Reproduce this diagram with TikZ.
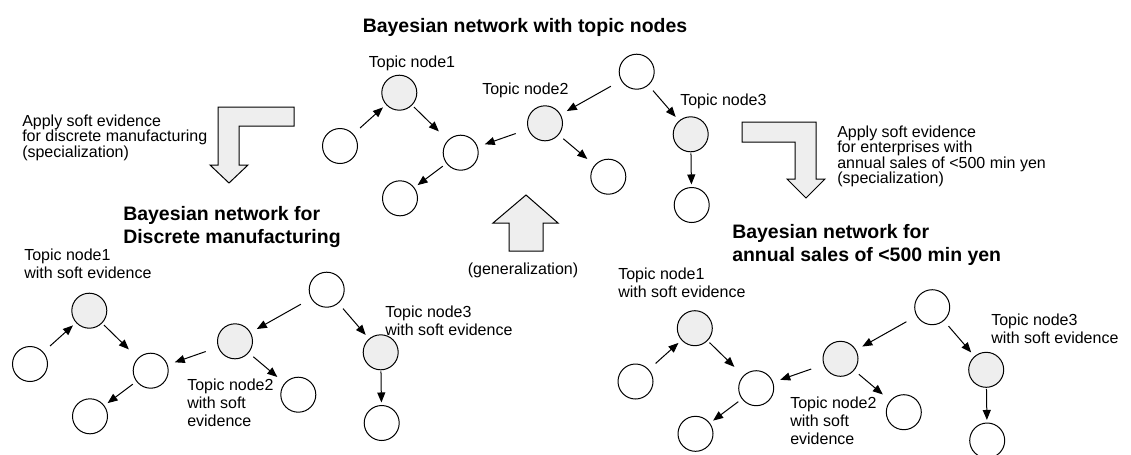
\documentclass[tikz,border=0pt]{standalone}
\usepackage{fontspec}
\setmainfont{Liberation Sans}
\usetikzlibrary{arrows.meta}
\definecolor{shade}{RGB}{238,238,238}
\tikzset{
 bn/.style={circle,draw,line width=0.75pt,minimum size=26.25pt,inner sep=0pt},
 tn/.style={bn,fill=shade},
 ed/.style 2 args={draw,line width=0.75pt,-{Triangle[length=7.5pt,width=6pt]},shorten <=#1,shorten >=#2},
 lbl/.style={inner sep=0pt,align=left,anchor=base west,font=\fontsize{12}{13.5}\selectfont},
 note/.style={inner sep=0pt,align=left,anchor=base west,font=\fontsize{12}{11.6}\selectfont},
 ttl/.style={inner sep=0pt,align=left,anchor=base west,font=\fontsize{14.6}{17.25}\selectfont\bfseries},
 blk/.style={draw,line width=0.75pt,fill=shade,line join=miter},
}
\newcommand\bnet[1]{%
 \node[bn] (#1bl) at (340,146) {};
 \node[tn] (#1ta) at (399.3,92.7) {};
 \node[bn] (#1md) at (460.7,152.7) {};
 \node[bn] (#1bt) at (400,198.3) {};
 \node[tn] (#1tb) at (545,123.3) {};
 \node[bn] (#1tr) at (636.7,71.7) {};
 \node[bn] (#1rt) at (608.3,176.7) {};
 \node[tn] (#1tc) at (690.7,134.3) {};
 \node[bn] (#1bw) at (691.7,205) {};
 \draw[ed={6.75pt}{3pt}] (#1bl) -- (#1ta);
 \draw[ed={1.9pt}{9.4pt}] (#1ta) -- (#1md);
 \draw[ed={3.3pt}{3pt}] (#1md) -- (#1bt);
 \draw[ed={8.7pt}{5.25pt}] (#1tr) -- (#1tb);
 \draw[ed={9.75pt}{5.6pt}] (#1tb) -- (#1md);
 \draw[ed={4.5pt}{7.1pt}] (#1tb) -- (#1rt);
 \draw[ed={5.25pt}{3.75pt}] (#1tr) -- (#1tc);
 \draw[ed={0.75pt}{1.9pt}] (#1tc) -- (#1bw);
}
\begin{document}
\begin{tikzpicture}[x=0.75pt,y=-0.75pt]
\useasboundingbox (0,0) rectangle (1131,454);
% titles (multi-line nodes: base = last line)
\node[ttl,anchor=base] (t0) at (525,32) {Bayesian network with topic nodes};
\node[ttl] (t1) at (123,243) {Bayesian network for\\Discrete manufacturing};
\node[ttl] (t2) at (732,261) {Bayesian network for\\annual sales of <500 min yen};
% top network
\bnet{a}
\node[lbl,anchor=base] (a1) at (412,67) {Topic node1};
\node[lbl] (a2) at (482,94) {Topic node2};
\node[lbl] (a3) at (680,105) {Topic node3};
% bottom-left network
\begin{scope}[shift={(-310,218)}]
\bnet{b}
\end{scope}
\node[lbl] (b1) at (24,278) {Topic node1\\with soft evidence};
\node[lbl] (b2) at (187,426) {Topic node2\\with soft\\evidence};
\node[lbl] (b3) at (385,335) {Topic node3\\with soft evidence};
% bottom-right network
\begin{scope}[shift={(295.5,235.5)}]
\bnet{c}
\end{scope}
\node[lbl] (c1) at (618,297) {Topic node1\\with soft evidence};
\node[lbl] (c2) at (790,444) {Topic node2\\with soft\\evidence};
\node[lbl] (c3) at (991,343) {Topic node3\\with soft evidence};
% block arrows
\draw[blk] (294,107) -- (218,107) -- (218,165) -- (210,165) -- (229,183) -- (248,165) -- (239,165) -- (239,126) -- (294,126) -- cycle;
\draw[blk] (742,122) -- (816,122) -- (816,179) -- (825,179) -- (806,198) -- (787,179) -- (795,179) -- (795,142) -- (742,142) -- cycle;
\draw[blk] (526,195) -- (558,223) -- (543,223) -- (543,251) -- (509,251) -- (509,223) -- (493,223) -- cycle;
% arrow notes
\node[note] (n1) at (22,157) {Apply soft evidence\\for discrete manufacturing\\(specialization)};
\node[note] (n2) at (837,183.5) {Apply soft evidence\\for enterprises with\\annual sales of <500 min yen\\(specialization)};
\node[note,anchor=base] (n3) at (523,274) {(generalization)};
\end{tikzpicture}
\end{document}
